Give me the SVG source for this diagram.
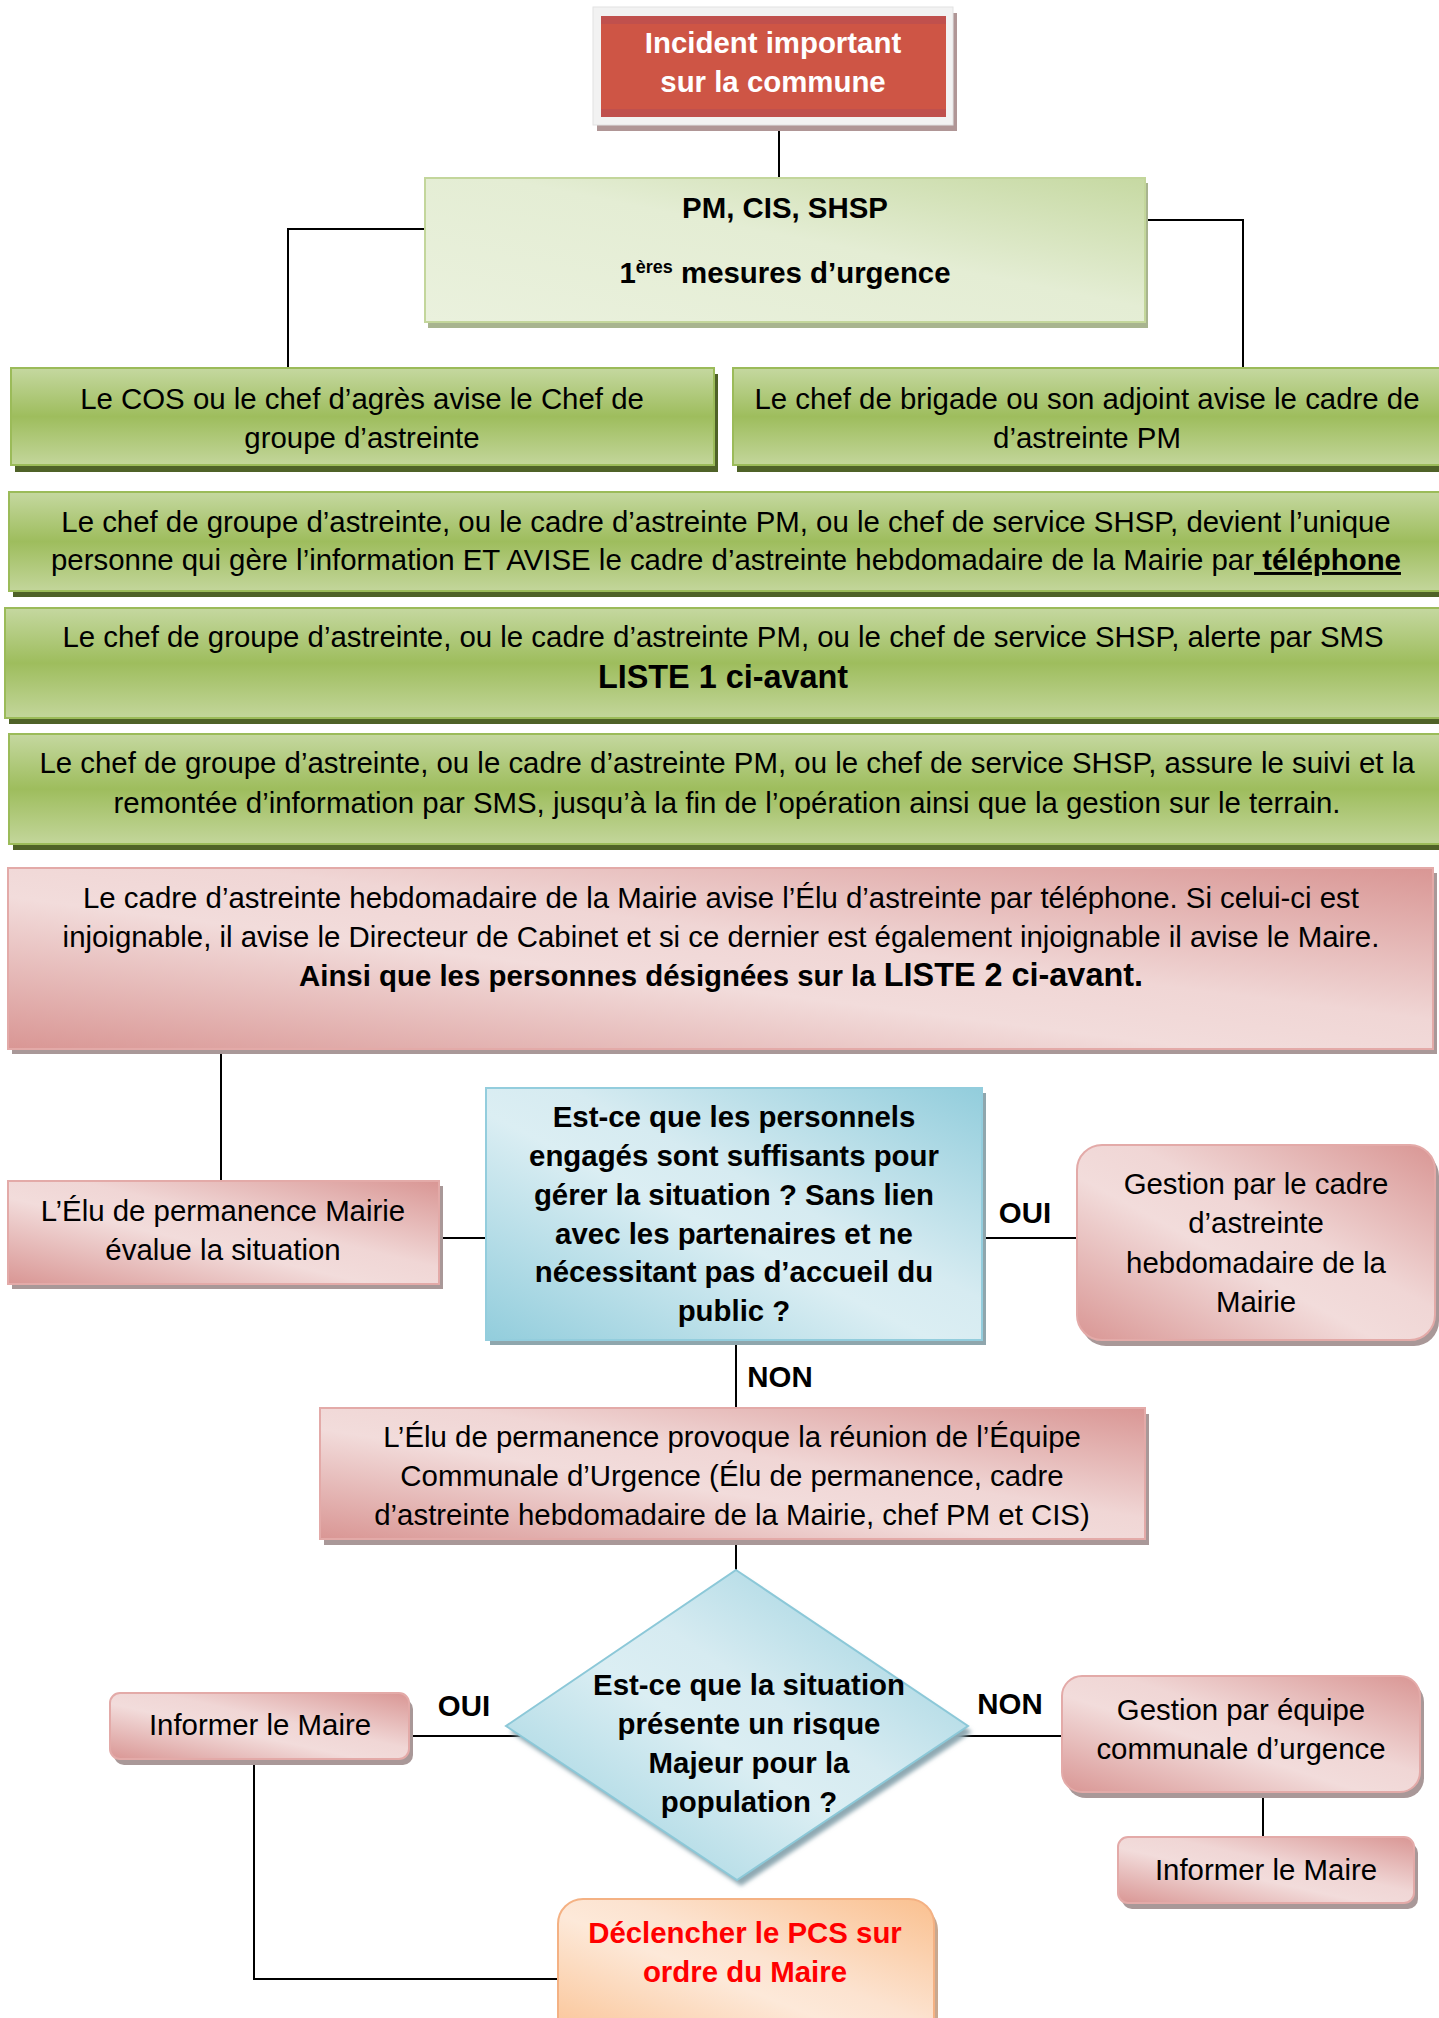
<svg xmlns="http://www.w3.org/2000/svg" width="1439" height="2018" viewBox="0 0 1439 2018">
  <defs>
    <linearGradient id="gGreen" x1="0" y1="0" x2="0" y2="1">
      <stop offset="0" stop-color="#c5d8a0"/>
      <stop offset="0.5" stop-color="#9ebd5d"/>
      <stop offset="1" stop-color="#c3d69b"/>
    </linearGradient>
    <linearGradient id="gPM" x1="0" y1="1" x2="1" y2="0">
      <stop offset="0" stop-color="#eaf1dd"/>
      <stop offset="0.55" stop-color="#e4edd4"/>
      <stop offset="1" stop-color="#c6d9a2"/>
    </linearGradient>
    <linearGradient id="gPink" x1="0" y1="1" x2="1" y2="0">
      <stop offset="0" stop-color="#d99694"/>
      <stop offset="0.42" stop-color="#f2dcdb"/>
      <stop offset="0.58" stop-color="#f0d6d5"/>
      <stop offset="1" stop-color="#d99694"/>
    </linearGradient>
    <linearGradient id="gBlue" x1="0" y1="1" x2="1" y2="0">
      <stop offset="0" stop-color="#92cddc"/>
      <stop offset="0.45" stop-color="#dbeef3"/>
      <stop offset="0.58" stop-color="#d6ebf1"/>
      <stop offset="1" stop-color="#92cddc"/>
    </linearGradient>
    <linearGradient id="gOrange" x1="0" y1="1" x2="1" y2="0">
      <stop offset="0" stop-color="#fac08f"/>
      <stop offset="0.45" stop-color="#fde9d9"/>
      <stop offset="0.58" stop-color="#fce3d0"/>
      <stop offset="1" stop-color="#fac08f"/>
    </linearGradient>
    <filter id="soft" x="-10%" y="-10%" width="120%" height="120%">
      <feGaussianBlur stdDeviation="2"/>
    </filter>
  </defs>
  <style>
    text { font-family: "Liberation Sans", Arial, Helvetica, sans-serif; font-size: 29.4px; fill: #000; text-anchor: middle; }
    .b { font-weight: bold; }
    .w { fill: #ffffff; }
    .red { fill: #ff0000; }
    .big { font-size: 32.4px; }
    .sup { font-size: 18px; }
    .green { fill: url(#gGreen); stroke: #9bbb59; stroke-width: 2; }
    .gsh { fill: #4f6228; }
    .pink { fill: url(#gPink); stroke: #e3aaa8; stroke-width: 2; }
    .psh { fill: #a99898; }
    .blue { fill: url(#gBlue); stroke: #93cddd; stroke-width: 2; }
    .bsh { fill: #8fa6ad; }
    .orange { fill: url(#gOrange); stroke: #f4b183; stroke-width: 2; }
    .osh { fill: #c9a88f; }
    .link { fill: none; stroke: #000; stroke-width: 2; }
  </style>

  <rect width="1439" height="2018" fill="#ffffff"/>

  <!-- connectors -->
  <g id="connectors">
    <path class="link" d="M779,131 V180"/>
    <path class="link" d="M425,229 H288 V368"/>
    <path class="link" d="M1145,220 H1243 V368"/>
    <path class="link" d="M221,1049 V1181"/>
    <path class="link" d="M439,1238 H486"/>
    <path class="link" d="M982,1238 H1077"/>
    <path class="link" d="M736,1340 V1409"/>
    <path class="link" d="M736,1539 V1571"/>
    <path class="link" d="M409,1736 H521"/>
    <path class="link" d="M952,1736 H1062"/>
    <path class="link" d="M254,1759 V1979 H558"/>
    <path class="link" d="M1263,1792 V1837"/>
    <text class="b" x="1025" y="1223">OUI</text>
    <text class="b" x="780" y="1387">NON</text>
    <text class="b" x="464" y="1716">OUI</text>
    <text class="b" x="1010" y="1714">NON</text>
  </g>

  <!-- start event -->
  <g id="incident">
    <rect x="597" y="13" width="360" height="118" fill="#b09696"/>
    <rect x="593" y="7" width="360" height="118" fill="#f2f2f2" stroke="#e2e2e2" stroke-width="1"/>
    <rect x="601" y="16" width="345" height="101" fill="#ce5545"/>
    <rect x="601" y="16" width="345" height="8" fill="#c0504d"/>
    <rect x="601" y="109" width="345" height="8" fill="#c0504d"/>
    <text class="b w" x="773" y="53">Incident important</text>
    <text class="b w" x="773" y="92">sur la commune</text>
  </g>

  <g id="premieres-mesures">
    <rect x="428" y="183" width="720" height="145" fill="#a8b48f"/>
    <rect x="425" y="178" width="720" height="144" fill="url(#gPM)" stroke="#c3d69b" stroke-width="2"/>
    <text class="b" x="785" y="218">PM, CIS, SHSP</text>
    <text class="b" x="785" y="283">1<tspan class="sup" dy="-10">ères</tspan><tspan dy="10"> mesures d’urgence</tspan></text>
  </g>

  <g id="cos">
    <rect class="gsh" x="15" y="374" width="703" height="98"/>
    <rect class="green" x="11" y="368" width="703" height="97"/>
    <text x="362" y="409">Le COS ou le chef d’agrès avise le Chef de</text>
    <text x="362" y="448">groupe d’astreinte</text>
  </g>

  <g id="brigade">
    <rect class="gsh" x="737" y="374" width="708" height="98"/>
    <rect class="green" x="733" y="368" width="708" height="97"/>
    <text x="1087" y="409">Le chef de brigade ou son adjoint avise le cadre de</text>
    <text x="1087" y="448">d’astreinte PM</text>
  </g>

  <g id="gestion-info">
    <rect class="gsh" x="13" y="498" width="1432" height="99"/>
    <rect class="green" x="9" y="492" width="1432" height="99"/>
    <text x="726" y="532">Le chef de groupe d’astreinte, ou le cadre d’astreinte PM, ou le chef de service SHSP, devient l’unique</text>
    <text x="726" y="570">personne qui gère l’information ET AVISE le cadre d’astreinte hebdomadaire de la Mairie par<tspan class="b" text-decoration="underline"> téléphone</tspan></text>
  </g>

  <g id="alerte-sms">
    <rect class="gsh" x="9" y="614" width="1436" height="110"/>
    <rect class="green" x="5" y="608" width="1436" height="110"/>
    <text x="723" y="647">Le chef de groupe d’astreinte, ou le cadre d’astreinte PM, ou le chef de service SHSP, alerte par SMS</text>
    <text class="b big" x="723" y="688">LISTE 1 ci-avant</text>
  </g>

  <g id="suivi">
    <rect class="gsh" x="13" y="740" width="1432" height="110"/>
    <rect class="green" x="9" y="734" width="1432" height="110"/>
    <text x="727" y="773">Le chef de groupe d’astreinte, ou le cadre d’astreinte PM, ou le chef de service SHSP, assure le suivi et la</text>
    <text x="727" y="813">remontée d’information par SMS, jusqu’à la fin de l’opération ainsi que la gestion sur le terrain.</text>
  </g>

  <g id="cadre-hebdo">
    <rect class="psh" x="12" y="873" width="1425" height="181"/>
    <rect class="pink" x="8" y="868" width="1425" height="181"/>
    <text x="721" y="908">Le cadre d’astreinte hebdomadaire de la Mairie avise l’Élu d’astreinte par téléphone. Si celui-ci est</text>
    <text x="721" y="947">injoignable, il avise le Directeur de Cabinet et si ce dernier est également injoignable il avise le Maire.</text>
    <text class="b" x="721" y="986">Ainsi que les personnes désignées sur la <tspan class="big">LISTE 2 ci-avant.</tspan></text>
  </g>

  <g id="elu-evalue">
    <rect class="psh" x="12" y="1186" width="431" height="103"/>
    <rect class="pink" x="8" y="1181" width="431" height="103"/>
    <text x="223" y="1221">L’Élu de permanence Mairie</text>
    <text x="223" y="1260">évalue la situation</text>
  </g>

  <g id="question-personnels">
    <rect class="bsh" x="490" y="1093" width="496" height="252"/>
    <rect class="blue" x="486" y="1088" width="496" height="252"/>
    <text class="b" x="734" y="1127">Est-ce que les personnels</text>
    <text class="b" x="734" y="1166">engagés sont suffisants pour</text>
    <text class="b" x="734" y="1205">gérer la situation ? Sans lien</text>
    <text class="b" x="734" y="1244">avec les partenaires et ne</text>
    <text class="b" x="734" y="1282">nécessitant pas d’accueil du</text>
    <text class="b" x="734" y="1321">public ?</text>
  </g>

  <g id="gestion-cadre">
    <rect class="psh" x="1081" y="1151" width="358" height="195" rx="25"/>
    <rect class="pink" x="1077" y="1145" width="358" height="195" rx="25"/>
    <text x="1256" y="1194">Gestion par le cadre</text>
    <text x="1256" y="1233">d’astreinte</text>
    <text x="1256" y="1273">hebdomadaire de la</text>
    <text x="1256" y="1312">Mairie</text>
  </g>

  <g id="equipe-urgence">
    <rect class="psh" x="324" y="1414" width="825" height="131"/>
    <rect class="pink" x="320" y="1408" width="825" height="131"/>
    <text x="732" y="1447">L’Élu de permanence provoque la réunion de l’Équipe</text>
    <text x="732" y="1486">Communale d’Urgence (Élu de permanence, cadre</text>
    <text x="732" y="1525">d’astreinte hebdomadaire de la Mairie, chef PM et CIS)</text>
  </g>

  <g id="question-risque">
    <polygon points="740,1576 972,1732 741,1886 510,1732" fill="#8fa9b2" filter="url(#soft)"/>
    <polygon points="736,1570 968,1726 737,1880 506,1726" fill="url(#gBlue)" stroke="#8cc8d8" stroke-width="2"/>
    <text class="b" x="749" y="1695">Est-ce que la situation</text>
    <text class="b" x="749" y="1734">présente un risque</text>
    <text class="b" x="749" y="1773">Majeur pour la</text>
    <text class="b" x="749" y="1812">population ?</text>
  </g>

  <g id="informer-maire-oui">
    <rect class="psh" x="114" y="1699" width="299" height="66" rx="10"/>
    <rect class="pink" x="110" y="1693" width="299" height="66" rx="10"/>
    <text x="260" y="1735">Informer le Maire</text>
  </g>

  <g id="declencher-pcs">
    <rect class="osh" x="562" y="1905" width="376" height="150" rx="25"/>
    <rect class="orange" x="558" y="1899" width="376" height="150" rx="25"/>
    <text class="b red" x="745" y="1943">Déclencher le PCS sur</text>
    <text class="b red" x="745" y="1982">ordre du Maire</text>
  </g>

  <g id="gestion-equipe">
    <rect class="psh" x="1066" y="1682" width="358" height="116" rx="20"/>
    <rect class="pink" x="1062" y="1676" width="358" height="116" rx="20"/>
    <text x="1241" y="1720">Gestion par équipe</text>
    <text x="1241" y="1759">communale d’urgence</text>
  </g>

  <g id="informer-maire-non">
    <rect class="psh" x="1122" y="1843" width="296" height="66" rx="10"/>
    <rect class="pink" x="1118" y="1837" width="296" height="66" rx="10"/>
    <text x="1266" y="1880">Informer le Maire</text>
  </g>
</svg>
